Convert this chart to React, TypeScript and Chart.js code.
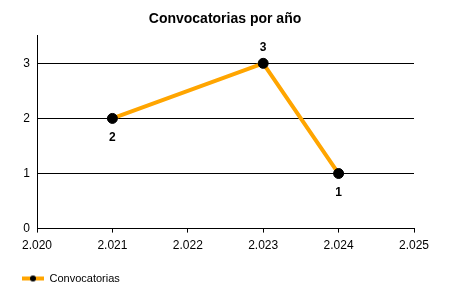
import React, { useEffect, useRef } from "react";
import { Chart, registerables } from "chart.js";

Chart.register(...registerables);

const years = [2021, 2023, 2024];
const counts = [2, 3, 1];
const labelPlacement = ["below", "above", "below"];
const xTickLabels = ["2.020", "2.021", "2.022", "2.023", "2.024", "2.025"];
const yTickLabels = ["0", "1", "2", "3"];
const chartTitle = "Convocatorias por año";
const seriesName = "Convocatorias";

const FONT = "'Liberation Sans', Arial, sans-serif";

function makeLegendSymbol() {
  const c = document.createElement("canvas");
  c.width = 22;
  c.height = 8;
  const ctx = c.getContext("2d")!;
  ctx.fillStyle = "#FFA500";
  ctx.fillRect(0, 2, 22, 4);
  ctx.fillStyle = "#000";
  ctx.beginPath();
  ctx.arc(11, 4, 3, 0, Math.PI * 2);
  ctx.fill();
  return c;
}

const dataLabelPlugin = {
  id: "dataLabels",
  afterDatasetsDraw(chart: any) {
    const ctx = chart.ctx;
    const meta = chart.getDatasetMeta(0);
    ctx.save();
    ctx.font = `bold 12px ${FONT}`;
    ctx.fillStyle = "#000";
    ctx.textAlign = "center";
    ctx.textBaseline = "middle";
    meta.data.forEach((pt: any, i: number) => {
      const dy = labelPlacement[i] === "above" ? -16 : 19;
      ctx.fillText(String(counts[i]), pt.x, pt.y + dy);
    });
    ctx.restore();
  },
};

export default function App() {
  const ref = useRef<HTMLCanvasElement>(null);
  useEffect(() => {
    const chart = new Chart(ref.current!, {
      type: "line",
      data: {
        datasets: [
          {
            label: seriesName,
            data: years.map((y, i) => ({ x: y, y: counts[i] })),
            borderColor: "#FFA500",
            backgroundColor: "#000",
            borderWidth: 4,
            pointRadius: 5,
            pointStyle: "circle",
            pointBackgroundColor: "#000",
            pointBorderColor: "#000",
            pointBorderWidth: 1,
            tension: 0,
          },
        ],
      },
      options: {
        responsive: false,
        animation: false,
        layout: { padding: { left: 8, right: 8, top: 0, bottom: 6 } },
        plugins: {
          title: {
            display: true,
            text: chartTitle,
            color: "#000",
            font: { family: FONT, size: 14, weight: "bold" },
            padding: { top: 11, bottom: 8 },
          },
          legend: {
            position: "bottom",
            align: "start",
            labels: {
              usePointStyle: true,
              pointStyleWidth: 22,
              color: "#000",
              font: { family: FONT, size: 11 },
              padding: 14,
              generateLabels: () => [
                {
                  text: seriesName,
                  pointStyle: makeLegendSymbol() as any,
                  fillStyle: "#000",
                  strokeStyle: "#000",
                  lineWidth: 0,
                  hidden: false,
                  datasetIndex: 0,
                } as any,
              ],
            },
          },
          tooltip: { enabled: false },
        },
        scales: {
          x: {
            type: "linear",
            min: 2020,
            max: 2025,
            ticks: {
              stepSize: 1,
              color: "#000",
              font: { family: FONT, size: 12 },
              padding: 6,
              maxRotation: 0,
              callback: (v: any) => xTickLabels[Math.round(Number(v) - 2020)],
            },
            grid: {
              drawOnChartArea: false,
              drawTicks: true,
              tickLength: 4,
              color: "#000",
            },
            border: { color: "#000", width: 1 },
          },
          y: {
            min: 0,
            max: 3.5,
            afterBuildTicks: (scale: any) => {
              scale.ticks = scale.ticks.filter((t: any) => Number.isInteger(t.value));
            },
            afterFit: (scale: any) => {
              scale.width = 29;
            },
            ticks: {
              stepSize: 1,
              color: "#000",
              font: { family: FONT, size: 12 },
              padding: 7,
              callback: (v: any) => yTickLabels[Number(v)],
            },
            grid: { drawTicks: false, color: "#000" },
            border: { color: "#000", width: 1 },
          },
          yRight: {
            type: "linear",
            position: "right",
            display: true,
            ticks: { display: false },
            grid: { display: false, drawTicks: false },
            border: { display: false },
            afterFit: (scale: any) => {
              scale.width = 28;
            },
          },
        },
      },
      plugins: [dataLabelPlugin],
    });
    return () => chart.destroy();
  }, []);
  return (
    <div style={{ position: "absolute", left: 0, top: 0, width: 450, height: 300, background: "#fff" }}>
      <canvas ref={ref} width={450} height={300} style={{ display: "block" }} />
    </div>
  );
}
